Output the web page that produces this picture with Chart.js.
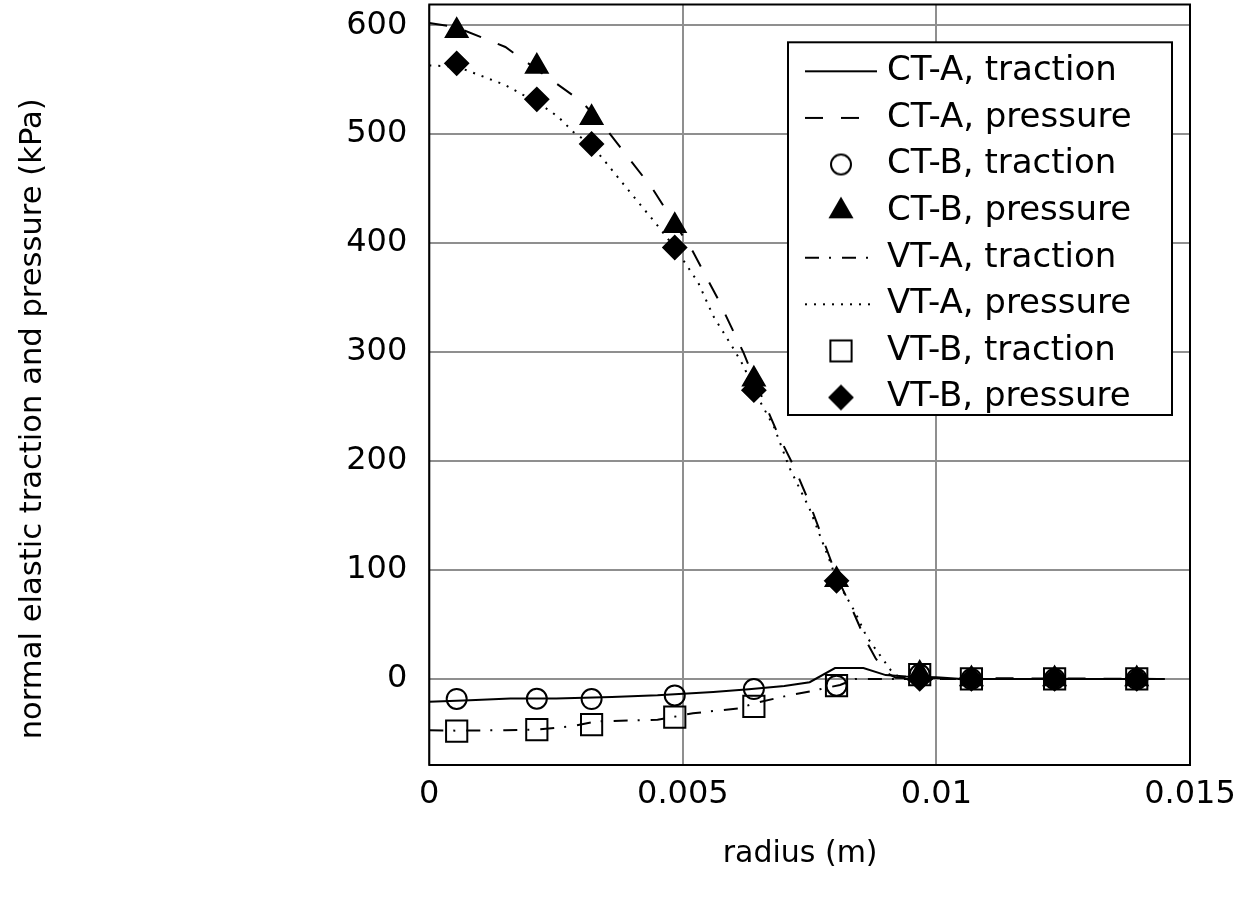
<!DOCTYPE html>
<html><head><meta charset="utf-8">
<script src="https://cdn.jsdelivr.net/npm/chart.js@4/dist/chart.umd.min.js"></script>
<style>html,body{margin:0;padding:0;background:#fff;}#wrap{width:1246px;height:903px;}</style>
</head><body><div id="wrap"><canvas id="c" width="1246" height="903"></canvas></div>
<script>
// ---- axis ticks ----
const xTicks = [0, 0.005, 0.01, 0.015];
const xTickLabels = ['0', '0.005', '0.01', '0.015'];
const yTicks = [0, 100, 200, 300, 400, 500, 600];
const yTickLabels = ['0', '100', '200', '300', '400', '500', '600'];

// ---- series names ----
const seriesNames = ['CT-A, traction', 'CT-A, pressure', 'CT-B, traction', 'CT-B, pressure',
                     'VT-A, traction', 'VT-A, pressure', 'VT-B, traction', 'VT-B, pressure'];

// ---- A curves (lines) ----
const ctaTractionX = [0, 0.0008, 0.0016, 0.0025, 0.0036, 0.0045, 0.0056, 0.0063, 0.0070, 0.0075, 0.0080, 0.00856, 0.0090, 0.0094, 0.0100, 0.0105, 0.0145];
const ctaTractionY = [-21, -19.5, -18, -18, -16.5, -15, -12, -9.5, -6.5, -3, 10, 10, 3.5, 2.3, 1.5, 0, 0];

const ctaPressureX = [0, 0.00054, 0.0015, 0.0030, 0.0034, 0.0038, 0.0044, 0.00484, 0.0052, 0.0057, 0.0062, 0.0064, 0.0069, 0.0072, 0.0075, 0.0079, 0.00803, 0.0083, 0.0086, 0.0088, 0.0090, 0.0092, 0.0145];
const ctaPressureY = [602, 598, 580, 530, 510, 486, 450, 418, 392, 348, 299, 276, 222, 194, 161, 111, 94, 68, 36, 19, 6, 1, 0];

const vtaTractionX = [0, 0.00054, 0.0015, 0.00211, 0.0028, 0.0033, 0.0045, 0.0048, 0.0052, 0.0061, 0.00645, 0.0070, 0.0075, 0.0081, 0.0084, 0.0145];
const vtaTractionY = [-47, -47.5, -47, -46.5, -43.5, -39, -37.5, -35, -31.5, -27, -22, -16, -11.5, -5.5, 0, 0];

const vtaPressureX = [0, 0.00054, 0.00083, 0.0015, 0.00185, 0.00211, 0.00254, 0.00284, 0.0032, 0.0035, 0.0039, 0.00445, 0.00484, 0.0053, 0.0056, 0.0060, 0.0062, 0.0064, 0.0068, 0.0071, 0.0075, 0.0079, 0.00803, 0.0084, 0.00862, 0.0091, 0.0093, 0.0145];
const vtaPressureY = [563, 562, 557, 545, 536, 530, 516, 502, 490, 473, 450, 419, 396, 364, 333, 303, 287, 265, 231, 194, 156, 108, 91, 61, 39, 8, 0, 0];

// ---- B results (markers) ----
const bRadius = [0.00054, 0.00212, 0.0032, 0.00484, 0.0064, 0.00803, 0.00967, 0.01069, 0.01233, 0.01395];
const ctbTraction = [-18.4, -18.2, -18.5, -15.1, -9.3, -6.2, 4, 0, 0, 0];
const ctbPressure = [595, 562, 515, 416, 275, 91, 5, 0, 0, 0];
const vtbTraction = [-48, -46.6, -42, -35, -25.2, -6.2, 4, 0, 0, 0];
const vtbPressure = [565, 532, 491, 396, 265, 90, 0, 0, 0, 0];

const FONT = '"DejaVu Sans", "Liberation Sans", Arial, sans-serif';
const pts = (xs, ys) => xs.map((x, i) => ({x: x, y: ys[i]}));

function lineDS(label, xs, ys, dash) {
  return {label, data: pts(xs, ys), showLine: true, borderColor: '#000', borderWidth: 2,
          borderDash: dash, pointRadius: 0, pointHoverRadius: 0, tension: 0, fill: false, order: 10};
}
function markDS(label, ys, style, r, filled, order) {
  return {label, data: pts(bRadius, ys), showLine: false, pointStyle: style, pointRadius: r,
          pointHoverRadius: r, pointBorderWidth: 2, pointBorderColor: '#000',
          pointBackgroundColor: filled ? '#000' : 'rgba(0,0,0,0)', order};
}

const DASH_CT_P = [18, 18];
const DASH_VT_T = [14, 10, 2, 11];
const DASH_VT_P = [2, 7];

const datasets = [
  lineDS(seriesNames[0], ctaTractionX, ctaTractionY, []),
  lineDS(seriesNames[1], ctaPressureX, ctaPressureY, DASH_CT_P),
  markDS(seriesNames[2], ctbTraction, 'circle', 10, false, 3),
  markDS(seriesNames[3], ctbPressure, 'triangle', 12.5, true, 1),
  lineDS(seriesNames[4], vtaTractionX, vtaTractionY, DASH_VT_T),
  lineDS(seriesNames[5], vtaPressureX, vtaPressureY, DASH_VT_P),
  markDS(seriesNames[6], vtbTraction, 'rect', 15, false, 4),
  markDS(seriesNames[7], vtbPressure, 'rectRot', 11.5, true, 2)
];

// legend sample images
function sampleLine(dash) {
  const c = document.createElement('canvas'); c.width = 72; c.height = 12;
  const g = c.getContext('2d'); g.strokeStyle = '#000'; g.lineWidth = 2; g.setLineDash(dash);
  g.beginPath(); g.moveTo(0, 6); g.lineTo(72, 6); g.stroke(); return c;
}
function sampleMarker(style, r, filled) {
  const c = document.createElement('canvas'); c.width = 40; c.height = 40;
  const g = c.getContext('2d'); g.strokeStyle = '#000'; g.fillStyle = '#000'; g.lineWidth = 2;
  const x = 20, y = 20; g.beginPath();
  if (style === 'circle') { g.arc(x, y, r, 0, Math.PI * 2); }
  else if (style === 'rect') { const s = Math.SQRT1_2 * r; g.rect(x - s, y - s, 2 * s, 2 * s); }
  else if (style === 'triangle') {
    let a = 0; g.moveTo(x + Math.sin(a) * r, y - Math.cos(a) * r);
    a += 2 * Math.PI / 3; g.lineTo(x + Math.sin(a) * r, y - Math.cos(a) * r);
    a += 2 * Math.PI / 3; g.lineTo(x + Math.sin(a) * r, y - Math.cos(a) * r); g.closePath();
  } else if (style === 'rectRot') {
    g.moveTo(x - r, y); g.lineTo(x, y - r); g.lineTo(x + r, y); g.lineTo(x, y + r); g.closePath();
  }
  if (filled) g.fill();
  g.stroke(); return c;
}
const samples = [
  sampleLine([]), sampleLine(DASH_CT_P), sampleMarker('circle', 10, false), sampleMarker('triangle', 12.5, true),
  sampleLine(DASH_VT_T), sampleLine(DASH_VT_P), sampleMarker('rect', 15, false), sampleMarker('rectRot', 11.5, true)
];

const LEG = {frameL: 788, frameT: 42.3, frameR: 1172, frameB: 415, itemX: 812, pad: 12.6};
const AREA_TOP = 4.5;
const ZERO_PAD = () => ({left: 0, top: 0, right: 0, bottom: 0});

const legendPlugin = {
  id: 'legendFrame',
  beforeLayout(chart) {
    Object.values(chart.scales).forEach(s => { s.getPadding = ZERO_PAD; });
    const lg = chart.legend;
    if (lg && !lg._patched) {
      lg._patched = true;
      lg._layers = function () {
        return [{z: 5, draw: (ca) => {
          const ctx = chart.ctx;
          ctx.save();
          ctx.fillStyle = '#fff';
          ctx.fillRect(LEG.frameL, LEG.frameT, LEG.frameR - LEG.frameL, LEG.frameB - LEG.frameT);
          ctx.strokeStyle = '#000'; ctx.lineWidth = 2;
          ctx.strokeRect(LEG.frameL, LEG.frameT, LEG.frameR - LEG.frameL, LEG.frameB - LEG.frameT);
          ctx.restore();
          lg.draw(ca);
        }}];
      };
    }
  },
  afterLayout(chart) {
    // pin the plot area top edge
    const ca = chart.chartArea;
    ca.top = AREA_TOP; ca.height = ca.bottom - ca.top;
    const ys = chart.scales.y;
    ys.top = AREA_TOP; ys.height = ys.bottom - ys.top; ys.configure();
    const lg = chart.legend;
    lg.left = LEG.itemX - LEG.pad; lg.top = 41.7;
    lg.right = 1246; lg.bottom = 903; lg.width = lg.right - lg.left; lg.height = lg.bottom - lg.top;
  },
  beforeDatasetsDraw(chart) {
    const {ctx, chartArea: a} = chart;
    ctx.save(); ctx.strokeStyle = '#000'; ctx.lineWidth = 2;
    ctx.strokeRect(a.left, a.top, a.right - a.left, a.bottom - a.top); ctx.restore();
  }
};

new Chart(document.getElementById('c'), {
  type: 'scatter',
  data: {datasets},
  options: {
    responsive: false, animation: false, devicePixelRatio: 1,
    layout: {padding: {top: AREA_TOP, right: 56, left: 0, bottom: 0}},
    plugins: {
      tooltip: {enabled: false},
      legend: {
        position: 'chartArea', align: 'start', fullSize: false,
        labels: {
          usePointStyle: true, pointStyleWidth: 58, padding: LEG.pad, color: '#000',
          font: {family: FONT, size: 34},
          generateLabels: () => seriesNames.map((n, i) => ({
            text: n, pointStyle: samples[i], fillStyle: '#000', strokeStyle: '#000',
            lineWidth: 0, hidden: false, datasetIndex: i, fontColor: '#000'
          }))
        }
      }
    },
    scales: {
      x: {
        type: 'linear', min: 0, max: 0.015,
        afterBuildTicks: s => { s.ticks = xTicks.map(v => ({value: v})); },
        afterFit: s => { s.height = 138; s.paddingLeft = 0; s.paddingRight = 0; },
        grid: {color: '#8f8f8f', lineWidth: 2, drawTicks: false, z: -1},
        border: {display: false},
        ticks: {padding: 10, color: '#000', font: {family: FONT, size: 32}, maxRotation: 0,
                callback: (v) => xTickLabels[xTicks.indexOf(v)]},
        title: {display: true, text: 'radius (m)  ', color: '#000', font: {family: FONT, size: 30},
                padding: {top: 16.8, bottom: 31}}
      },
      y: {
        type: 'linear', min: -79, max: 619,
        afterBuildTicks: s => { s.ticks = yTicks.map(v => ({value: v})); },
        afterFit: s => { s.width = 429.3; s.paddingTop = 0; s.paddingBottom = 0; },
        grid: {color: '#8f8f8f', lineWidth: 2, drawTicks: false, z: -1},
        border: {display: false},
        ticks: {padding: 22, color: '#000', font: {family: FONT, size: 32},
                callback: (v) => yTickLabels[yTicks.indexOf(v)]},
        title: {display: true, text: 'normal elastic traction and pressure (kPa)       ', color: '#000',
                font: {family: FONT, size: 30.6}, padding: {top: 14.6, bottom: 10}}
      }
    }
  },
  plugins: [legendPlugin]
});
</script>
</body></html>
